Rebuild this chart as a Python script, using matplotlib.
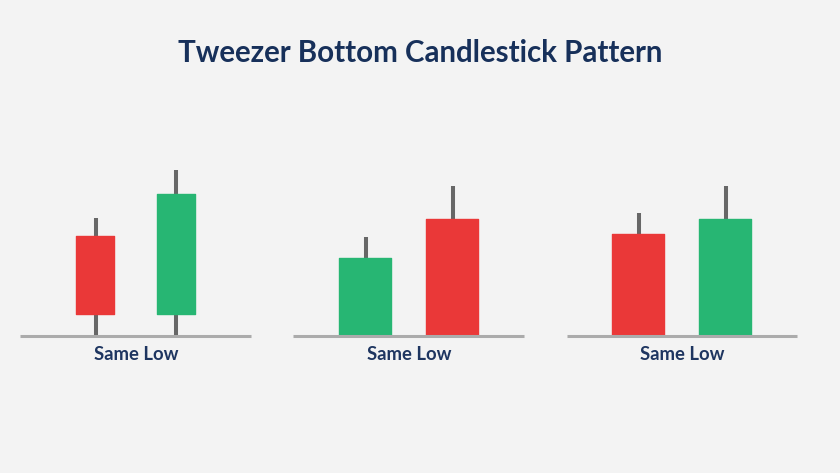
import matplotlib
matplotlib.use("Agg")
import matplotlib.pyplot as plt

# Values are heights above each panel's "same low" baseline
panel_labels = ["Same Low", "Same Low", "Same Low"]
title_text = "Tweezer Bottom Candlestick Pattern"
colors_seq = ["#EA3838", "#27B673", "#27B673", "#EA3838", "#EA3838", "#27B673"]
body_low = [21.5, 21.5, 0, 0, 0, 0]
body_high = [100.5, 142.5, 78.5, 117.5, 102.5, 117.5]
wick_high = [118, 166, 99, 150, 123, 150]
wick_low = [0, 0, 0, 0, 0, 0]

# Layout
centers = [95.5, 176, 365.5, 452.5, 638.5, 725.5]
body_centers = [95, 176, 365, 452, 638, 725]
widths = [39, 39, 53, 53, 53, 53]
base_spans = [(20, 251), (293, 524), (567, 797)]
label_x = [136, 409, 682]

fig = plt.figure(figsize=(8.4, 4.73), dpi=100, facecolor="#F3F3F3")
ax = fig.add_axes([0, 0, 1, 1])
ax.set_xlim(0, 840)
ax.set_ylim(-137, 336)
ax.axis("off")

ax.vlines(centers, wick_low, wick_high, colors="#676767", linewidth=2.9, zorder=1)
for c, w, lo, hi, col in zip(body_centers, widths, body_low, body_high, colors_seq):
    ax.bar(c, hi - lo - 1, width=w - 1, bottom=lo + 0.5, color=col, edgecolor=col,
           linewidth=1.0, joinstyle="round", zorder=2)
for (a, b), x, lab in zip(base_spans, label_x, panel_labels):
    ax.hlines(0, a, b, colors="#ABABAB", linewidth=2.2, zorder=3)
    ax.text(x, -18, lab, ha="center", va="center", family="Lato", weight="bold",
            fontsize=13.3, color="#1E3560")

ax.text(420, 282.5, title_text, ha="center", va="center", family="Lato", weight="bold",
        fontsize=21.25, color="#17305A")

fig.savefig("out.png", dpi=100, facecolor=fig.get_facecolor())
